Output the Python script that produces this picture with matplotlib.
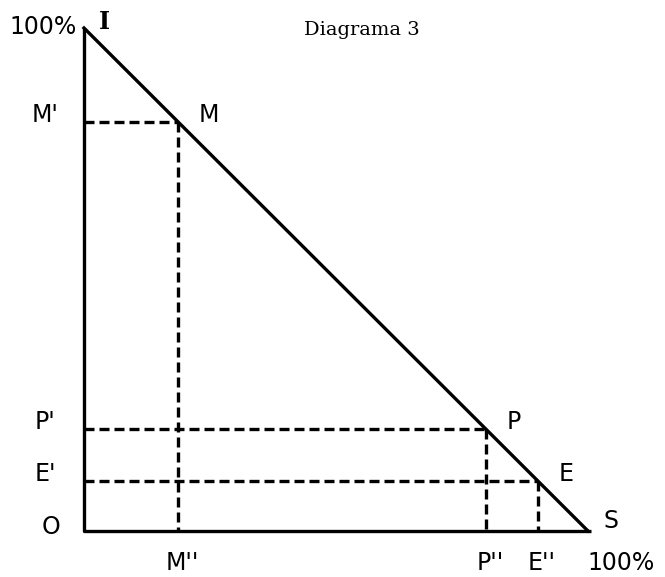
import matplotlib.pyplot as plt

# points on the line x + y = 100 (percent)
names = ['M', 'P', 'E']
xs = [18.7, 79.8, 90.0]
ys = [81.3, 20.2, 10.0]

fig = plt.figure(figsize=(6.65, 5.77), dpi=100)
ax = fig.add_axes([84 / 665, 1 - 531 / 577, 504 / 665, 503 / 577])
ax.set_xlim(0, 100)
ax.set_ylim(0, 100)
ax.axis('off')

lw = 2.4
# triangle
ax.plot([0, 0, 100.5], [100, 0, 0], color='black', lw=lw, solid_capstyle='butt', clip_on=False)
ax.plot([0, 100], [100, 0], color='black', lw=lw, clip_on=False)

# dashed projections
for x, y in zip(xs, ys):
    ax.plot([0, x], [y, y], color='black', lw=lw, ls=(0, (3.0, 1.5)), clip_on=False)
    ax.plot([x, x], [y, 0], color='black', lw=lw, ls=(0, (3.0, 1.5)), clip_on=False)

fs = 17
kw = dict(fontsize=fs, color='black', clip_on=False)
for name, x, y in zip(names, xs, ys):
    ax.annotate(name, (x, y), xytext=(15, 5), textcoords='offset points', ha='left', va='center', **kw)
    ax.annotate(name + "'", (0, y), xytext=(-28, 5), textcoords='offset points', ha='center', va='center', **kw)
    ax.annotate(name + "''", (x, 0), xytext=(3, -23), textcoords='offset points', ha='center', va='center', **kw)

ax.annotate('O', (0, 0), xytext=(-24, 3), textcoords='offset points', ha='center', va='center', **kw)
ax.annotate('S', (100, 0), xytext=(11, 7), textcoords='offset points', ha='left', va='center', **kw)
ax.annotate('100%', (100, 0), xytext=(24, -23), textcoords='offset points', ha='center', va='center', **kw)
ax.annotate('100%', (0, 100), xytext=(-5, 1), textcoords='offset points', ha='right', va='center', **kw)
ax.annotate('I', (0, 100), xytext=(11, 4), textcoords='offset points', ha='left', va='center',
            fontweight='bold', family='DejaVu Serif', fontsize=fs, color='black', clip_on=False)

fig.text(362 / 665, 1 - 30 / 577, 'Diagrama 3', ha='center', va='center',
         family='DejaVu Serif', fontsize=14)

fig.savefig('out.png', dpi=100)
